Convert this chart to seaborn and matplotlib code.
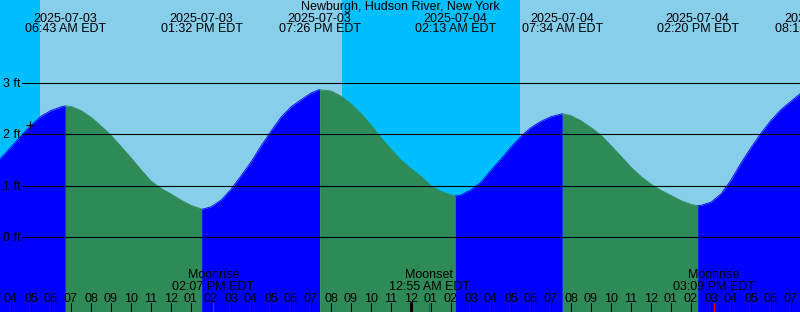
import numpy as np
import pandas as pd
import matplotlib
matplotlib.use("Agg")
import matplotlib.pyplot as plt
import seaborn as sns
from matplotlib.transforms import blended_transform_factory

# ---------------- data (hours since 2025-07-03 00:00 EDT) ----------------
station = "Newburgh, Hudson River, New York"

tide_hours = [3.0, 3.5, 4.0, 4.5, 5.0, 5.5, 6.0, 6.5, 6.717, 7.0, 7.5, 8.0, 8.5, 9.0,
              9.5, 10.0, 10.5, 11.0, 11.5, 12.0, 12.5, 13.0, 13.5, 13.533, 14.0, 14.5,
              15.0, 15.5, 16.0, 16.5, 17.0, 17.5, 18.0, 18.5, 19.0, 19.433, 19.5, 20.0,
              20.5, 21.0, 21.5, 22.0, 22.5, 23.0, 23.5, 24.0, 24.5, 25.0, 25.5, 26.0,
              26.217, 26.5, 27.0, 27.5, 28.0, 28.5, 29.0, 29.5, 30.0, 30.5, 31.0, 31.5,
              31.567, 32.0, 32.5, 33.0, 33.5, 34.0, 34.5, 35.0, 35.5, 36.0, 36.5, 37.0,
              37.5, 38.0, 38.333, 38.5, 39.0, 39.5, 40.0, 40.5, 41.0, 41.5, 42.0, 42.5,
              43.0, 43.5, 44.0]
tide_ft = [1.33, 1.54, 1.75, 1.97, 2.17, 2.35, 2.46, 2.53, 2.55, 2.54, 2.46, 2.33, 2.16, 1.98,
           1.76, 1.54, 1.31, 1.09, 0.95, 0.84, 0.72, 0.62, 0.55, 0.54, 0.59, 0.72,
           0.93, 1.19, 1.46, 1.77, 2.06, 2.33, 2.53, 2.67, 2.80, 2.87, 2.86, 2.84,
           2.74, 2.59, 2.40, 2.18, 1.93, 1.71, 1.50, 1.33, 1.18, 1.00, 0.89, 0.82,
           0.80, 0.82, 0.92, 1.07, 1.30, 1.52, 1.75, 1.96, 2.13, 2.25, 2.34, 2.39,
           2.40, 2.36, 2.26, 2.13, 1.98, 1.78, 1.57, 1.36, 1.18, 1.03, 0.91, 0.81,
           0.71, 0.64, 0.61, 0.62, 0.68, 0.84, 1.11, 1.44, 1.74, 2.02, 2.27, 2.48,
           2.64, 2.80, 2.88]

extreme_hours = [6.717, 13.533, 19.433, 26.217, 31.567, 38.333, 44.27]
extreme_dates = ["2025-07-03", "2025-07-03", "2025-07-03", "2025-07-04",
                 "2025-07-04", "2025-07-04", "2025-07-04"]
extreme_times = ["06:43 AM EDT", "01:32 PM EDT", "07:26 PM EDT", "02:13 AM EDT",
                 "07:34 AM EDT", "02:20 PM EDT", "08:16 PM EDT"]

night_starts = [3.0, 20.55]
night_ends = [5.45, 29.45]

moon_hours = [14.117, 24.917, 39.15]
moon_events = ["Moonrise", "Moonset", "Moonrise"]
moon_times = ["02:07 PM EDT", "12:55 AM EDT", "03:09 PM EDT"]

hour_ticks = list(range(4, 44))
midnight_hours = [24]
ft_levels = [0, 1, 2, 3]
ft_labels = ["0 ft", "1 ft", "2 ft", "3 ft"]
now_hour, now_ft = 4.95, 2.18

# ---------------- style ----------------
sns.set_theme(style="white")
plt.rcParams["font.family"] = ["Liberation Sans", "DejaVu Sans"]
plt.rcParams["text.color"] = "black"
FS = 9
TXT = dict(fontsize=FS, color="black", zorder=5)
W, H = 800, 312
DAY, NIGHT = "#87CEEB", "#00BFFF"
FLOOD, EBB = "#0000FF", "#2E8B57"

fig = plt.figure(figsize=(W / 100, H / 100), dpi=100)
ax = fig.add_axes([0, 0, 1, 1])
ax.set_facecolor(DAY)
ax.axis("off")

XMIN, XMAX = 3.45, 43.45
YMIN, YMAX = -(H - 237.2) / 51.5, 237.2 / 51.5
ax.set_xlim(XMIN, XMAX)
ax.set_ylim(YMIN, YMAX)
ax.add_patch(plt.Rectangle((XMIN, YMIN), XMAX - XMIN, YMAX - YMIN, color=DAY, zorder=0))

for s, e in zip(night_starts, night_ends):
    ax.axvspan(s, e, color=NIGHT, lw=0, zorder=0.5)

df = pd.DataFrame({"hour": tide_hours, "ft": tide_ft})
h = df["hour"].to_numpy()
cuts = [0] + [int(np.argmin(np.abs(h - eh))) for eh in extreme_hours if eh <= h[-1]] + [len(h) - 1]
cuts = sorted(set(cuts))
for a, b in zip(cuts[:-1], cuts[1:]):
    seg = df.iloc[a:b + 1]
    c = FLOOD if seg["ft"].iloc[-1] > seg["ft"].iloc[0] else EBB
    ax.fill_between(seg["hour"], YMIN, seg["ft"], color=c, lw=0, zorder=1)
    sns.lineplot(data=seg, x="hour", y="ft", color=c, lw=0.6, ax=ax, zorder=1.1)

ax.axis("off")
ax.set_xlim(XMIN, XMAX)
ax.set_ylim(YMIN, YMAX)

# horizontal foot lines and labels
x_line_start = XMIN + 22 / 20
for lv, lab in zip(ft_levels, ft_labels):
    ax.plot([x_line_start, XMAX], [lv, lv], color="black", lw=0.8, zorder=3)
    ax.text(XMIN + 3 / 20, lv - 4.2 / 51.5, lab, ha="left", va="baseline", **TXT)

trans = blended_transform_factory(ax.transData, ax.transAxes)

def yf(py):
    return 1 - py / H

# title
ax.text(0.5, yf(9.8), station, transform=ax.transAxes, ha="center", va="baseline", **TXT)

# extreme labels
for eh, d, t in zip(extreme_hours, extreme_dates, extreme_times):
    ax.text(eh, yf(22.3), d, transform=trans, ha="center", va="baseline", **TXT)
    ax.text(eh, yf(32.0), t, transform=trans, ha="center", va="baseline", **TXT)

# hour ticks
for hr in hour_ticks:
    lab = f"{(hr % 12) or 12:02d}"
    ax.text(hr, yf(302.3), lab, transform=trans, ha="center", va="baseline", **TXT)
    ax.axvline(hr, ymin=0, ymax=(H - 303) / H, color="black", lw=0.75, zorder=5)
for mh in midnight_hours:
    ax.axvline(mh, ymin=0, ymax=(H - 303) / H, color="black", lw=2.2, zorder=5)

# moon events
for mh, ev, t in zip(moon_hours, moon_events, moon_times):
    ax.text(mh, yf(278.2), ev, transform=trans, ha="center", va="baseline", **TXT)
    ax.text(mh, yf(289.5), t, transform=trans, ha="center", va="baseline", **TXT)
    ax.axvline(mh, ymin=0, ymax=(H - 303) / H, color="red", lw=0.75, zorder=6)

# current time marker
ax.plot([now_hour], [now_ft], marker="+", ms=6, mew=0.8, color="black", zorder=6)

fig.savefig("out.png", dpi=100)
